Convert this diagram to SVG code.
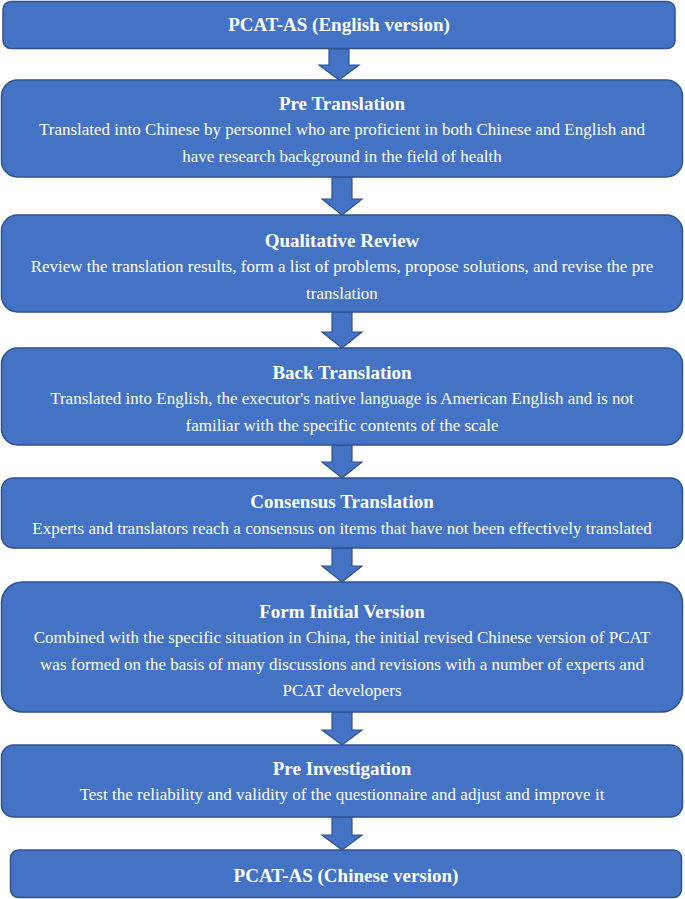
<svg xmlns="http://www.w3.org/2000/svg" width="685" height="899" viewBox="0 0 685 899">
<style>
.box{fill:#4472C4;stroke:#2F528F;stroke-width:1.5}
.arr{fill:#4472C4;stroke:#2F528F;stroke-width:1.2}
text{fill:#FFFFFF;font-family:"Liberation Serif","Times New Roman",serif;text-anchor:middle}
.t{font-weight:bold;font-size:19px}
.b{font-size:17px}
</style>
<rect width="685" height="899" fill="#FFFFFF"/>
<g id="connectors">
<path class="arr" d="M329,49 H349 V65 H359 L339,80 L319,65 H329 Z"/>
<path class="arr" d="M332,177 H352 V199 H362 L342,215 L322,199 H332 Z"/>
<path class="arr" d="M332,312 H352 V332 H362 L342,348 L322,332 H332 Z"/>
<path class="arr" d="M332,445 H352 V462 H362 L342,478 L322,462 H332 Z"/>
<path class="arr" d="M332,548 H352 V566 H362 L342,582 L322,566 H332 Z"/>
<path class="arr" d="M332,712 H352 V730 H362 L342,745 L322,730 H332 Z"/>
<path class="arr" d="M332,817 H352 V835 H362 L342,850 L322,835 H332 Z"/>
</g>
<g id="n1">
<rect class="box" x="3" y="1.5" width="672" height="47" rx="8"/>
<text class="t" x="339" y="31">PCAT-AS (English version)</text>
</g>
<g id="n2">
<rect class="box" x="1.5" y="80" width="681" height="97" rx="16"/>
<text class="t" x="342" y="110">Pre Translation</text>
<text class="b" x="342" y="135">Translated into Chinese by personnel who are proficient in both Chinese and English and</text>
<text class="b" x="342" y="162">have research background in the field of health</text>
</g>
<g id="n3">
<rect class="box" x="1.5" y="215" width="681" height="97" rx="16"/>
<text class="t" x="342" y="247">Qualitative Review</text>
<text class="b" x="342" y="272">Review the translation results, form a list of problems, propose solutions, and revise the pre</text>
<text class="b" x="342" y="299">translation</text>
</g>
<g id="n4">
<rect class="box" x="1.5" y="348" width="681" height="97" rx="16"/>
<text class="t" x="342" y="379">Back Translation</text>
<text class="b" x="342" y="404">Translated into English, the executor's native language is American English and is not</text>
<text class="b" x="342" y="431">familiar with the specific contents of the scale</text>
</g>
<g id="n5">
<rect class="box" x="1.5" y="478" width="681" height="70" rx="12"/>
<text class="t" x="342" y="508">Consensus Translation</text>
<text class="b" x="342" y="534">Experts and translators reach a consensus on items that have not been effectively translated</text>
</g>
<g id="n6">
<rect class="box" x="1.5" y="582" width="681" height="130" rx="21"/>
<text class="t" x="342" y="618">Form Initial Version</text>
<text class="b" x="342" y="643">Combined with the specific situation in China, the initial revised Chinese version of PCAT</text>
<text class="b" x="342" y="670">was formed on the basis of many discussions and revisions with a number of experts and</text>
<text class="b" x="342" y="696">PCAT developers</text>
</g>
<g id="n7">
<rect class="box" x="1.5" y="745" width="681" height="72" rx="12"/>
<text class="t" x="342" y="775">Pre Investigation</text>
<text class="b" x="342" y="800">Test the reliability and validity of the questionnaire and adjust and improve it</text>
</g>
<g id="n8">
<rect class="box" x="10.5" y="850" width="671" height="47.5" rx="8"/>
<text class="t" x="346" y="882">PCAT-AS (Chinese version)</text>
</g>
</svg>
